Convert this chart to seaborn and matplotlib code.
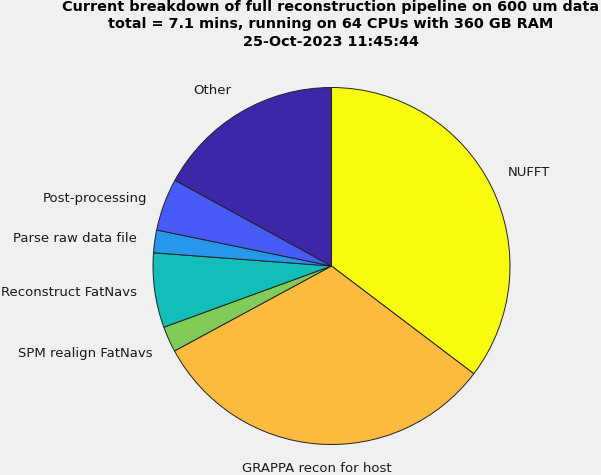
import matplotlib
matplotlib.use("Agg")
import matplotlib.pyplot as plt
import seaborn as sns

# Data (minutes per stage)
stages = ["NUFFT", "GRAPPA recon for host", "SPM realign FatNavs",
          "Reconstruct FatNavs", "Parse raw data file", "Post-processing", "Other"]
minutes = [2.51, 2.26, 0.165, 0.48, 0.146, 0.337, 1.21]
colors = ["#F9FB0E", "#FCBB3E", "#81CC59", "#12BEB9", "#2797EB", "#475BF9", "#3E26A8"]
title_lines = ["Current breakdown of full reconstruction pipeline on 600 um data",
               "total = 7.1 mins, running on 64 CPUs with 360 GB RAM",
               "25-Oct-2023 11:45:44"]
label_va = ["bottom", "top", "top", "center", "center", "center", "bottom"]

sns.set_style("white")
plt.rcParams["font.family"] = ["DejaVu Sans"]
bg = "#F0F0F0"

W, H = 601, 475
fig = plt.figure(figsize=(W / 100, H / 100), dpi=100, facecolor=bg)

cx, cy, r = 331.5, 266.0, 178.5
lim = 1.3
size = 2 * lim * r
ax = fig.add_axes([(cx - size / 2) / W, (H - cy - size / 2) / H, size / W, size / H])
ax.set_facecolor(bg)

palette = sns.color_palette(colors)
wedges, texts = ax.pie(minutes, labels=stages, colors=palette, startangle=90,
                       counterclock=False, labeldistance=1.1,
                       wedgeprops=dict(edgecolor="#222222", linewidth=0.7),
                       textprops=dict(fontsize=9.5, color="#1a1a1a"))
for t, va in zip(texts, label_va):
    t.set_va(va)
    x, _ = t.get_position()
    if abs(x) < 0.15:
        t.set_ha("center")
ax.set_xlim(-lim, lim)
ax.set_ylim(-lim, lim)
ax.set_aspect("equal")
ax.axis("off")

fig.text(331 / W, 1.0, "\n".join(title_lines), ha="center", va="top",
         fontsize=10.4, fontweight="bold", color="black", linespacing=1.3)

fig.savefig("out.png", dpi=100, facecolor=bg)
